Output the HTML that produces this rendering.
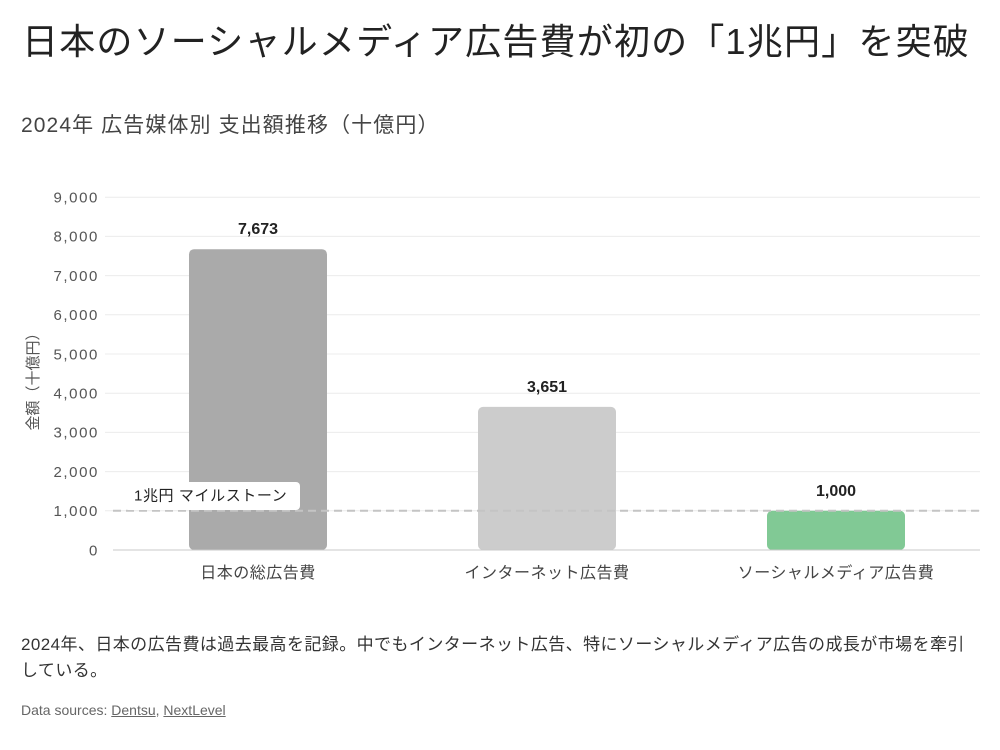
<!DOCTYPE html>
<html lang="ja">
<head>
<meta charset="utf-8">
<style>
  html, body { margin:0; padding:0; background:#ffffff; }
  body { width:1000px; height:750px; position:relative; overflow:hidden;
         font-family:"Liberation Sans","Noto Sans CJK JP",sans-serif; }
  .title { position:absolute; left:22px; top:23px; font-size:36px; line-height:38px;
           color:#222; letter-spacing:1.2px; white-space:nowrap; }
  .subtitle { position:absolute; left:21px; top:114px; font-size:21px; line-height:24px;
              color:#444; letter-spacing:1.1px; white-space:nowrap; }
  .body { position:absolute; left:21px; top:632px; font-size:17px; line-height:26px;
          color:#333; letter-spacing:0.42px; white-space:nowrap; }
  .src { position:absolute; left:21px; top:701px; font-size:14px; line-height:18px;
         color:#666; white-space:nowrap; }
  .src span { text-decoration:underline; }
  svg { position:absolute; left:0; top:0; }
  svg text { font-family:"Liberation Sans","Noto Sans CJK JP",sans-serif; }
</style>
</head>
<body>
<div class="title">日本のソーシャルメディア広告費が初の「1兆円」を突破</div>
<div class="subtitle">2024年 広告媒体別 支出額推移（十億円）</div>

<svg width="1000" height="750" viewBox="0 0 1000 750">
  <!-- gridlines -->
  <g stroke="#ececec" stroke-width="1">
    <line x1="105" x2="980" y1="197.2" y2="197.2"/>
    <line x1="105" x2="980" y1="236.4" y2="236.4"/>
    <line x1="105" x2="980" y1="275.6" y2="275.6"/>
    <line x1="105" x2="980" y1="314.8" y2="314.8"/>
    <line x1="105" x2="980" y1="354" y2="354"/>
    <line x1="105" x2="980" y1="393.2" y2="393.2"/>
    <line x1="105" x2="980" y1="432.4" y2="432.4"/>
    <line x1="105" x2="980" y1="471.6" y2="471.6"/>
    <line x1="105" x2="980" y1="510.8" y2="510.8"/>
  </g>
  <!-- tick labels -->
  <g font-size="15" fill="#555" text-anchor="end" letter-spacing="1.6">
    <text x="99" y="202.5">9,000</text>
    <text x="99" y="241.7">8,000</text>
    <text x="99" y="280.9">7,000</text>
    <text x="99" y="320.1">6,000</text>
    <text x="99" y="359.3">5,000</text>
    <text x="99" y="398.5">4,000</text>
    <text x="99" y="437.7">3,000</text>
    <text x="99" y="476.9">2,000</text>
    <text x="99" y="516.1">1,000</text>
    <text x="99" y="555.3">0</text>
  </g>
  <!-- y axis title -->
  <text transform="translate(38,378) rotate(-90)" font-size="15" fill="#555" text-anchor="middle">金額（十億円）</text>

  <!-- bars -->
  <rect x="189" y="249.2" width="138" height="300.8" rx="5" fill="#aaaaaa"/>
  <rect x="478" y="406.9" width="138" height="143.1" rx="5" fill="#cccccc"/>
  <rect x="767" y="510.8" width="138" height="39.2" rx="5" fill="#81c995"/>

  <!-- baseline -->
  <line x1="113" x2="980" y1="550" y2="550" stroke="#c8c8c8" stroke-width="1"/>

  <!-- dashed milestone line -->
  <line x1="113" x2="980" y1="510.8" y2="510.8" stroke="#c4c4c4" stroke-width="2" stroke-dasharray="8 5"/>

  <!-- milestone label -->
  <rect x="125" y="482" width="175" height="28" rx="4" fill="#ffffff"/>
  <text x="134" y="500.5" font-size="15" fill="#222" letter-spacing="0.6">1兆円 マイルストーン</text>

  <!-- value labels -->
  <g font-size="16" font-weight="bold" fill="#222" text-anchor="middle">
    <text x="258" y="234">7,673</text>
    <text x="547" y="392">3,651</text>
    <text x="836" y="496">1,000</text>
  </g>

  <!-- category labels -->
  <g font-size="16" fill="#444" text-anchor="middle" letter-spacing="0.5">
    <text x="258" y="578">日本の総広告費</text>
    <text x="547" y="578">インターネット広告費</text>
    <text x="836" y="578">ソーシャルメディア広告費</text>
  </g>
</svg>

<div class="body">2024年、日本の広告費は過去最高を記録。中でもインターネット広告、特にソーシャルメディア広告の成長が市場を牽引<br>している。</div>
<div class="src">Data sources: <span>Dentsu</span>, <span>NextLevel</span></div>
</body>
</html>
